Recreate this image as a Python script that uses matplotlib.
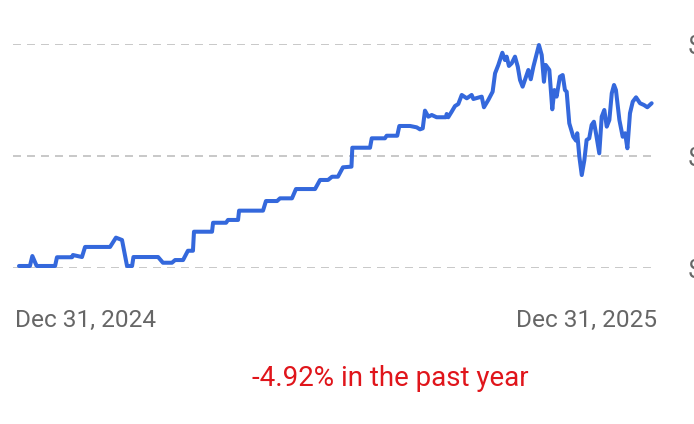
import numpy as np
import matplotlib
matplotlib.use("Agg")
import matplotlib.pyplot as plt

# days since Dec 31, 2024 and price
days = [0, 6.3, 7.7, 10.2, 20.8, 21.9, 30.6, 31.1, 36.3, 38.1, 52.5, 55.9, 59.4, 62.3,
        65.2, 66.0, 80.2, 83.0, 88.2, 90.0, 94.6, 97.4, 100.3, 100.9, 111.3, 111.9,
        119.4, 120.5, 126.3, 126.9, 140.7, 142.4, 148.8, 150.5, 157.4, 159.7, 170.7,
        173.6, 178.2, 180.5, 183.9, 186.8, 191.7, 192.2, 202.4, 203.4, 211.0, 212.0,
        218.1, 219.3, 225.5, 229.3, 231.2, 232.8, 234.1, 236.0, 238.0, 240.8, 246.2,
        246.6, 247.5, 249.5, 251.4, 253.3, 255.3, 258.2, 261.0, 262.0, 266.8, 268.1,
        270.6, 273.1, 274.5, 276.4, 278.7, 280.2, 281.2, 282.5, 284.1, 286.0, 287.6,
        288.9, 290.4, 292.7, 293.7, 295.1, 296.6, 299.8, 301.4, 302.7, 303.7, 305.8,
        307.5, 308.7, 310.0, 311.9, 313.5, 314.8, 315.8, 317.3, 319.6, 321.2, 321.9,
        323.1, 324.5, 326.0, 327.3, 328.8, 330.2, 331.5, 332.7, 334.6, 336.0, 337.5,
        338.9, 340.4, 341.8, 343.1, 344.2, 346.2, 348.1, 349.5, 350.8, 352.3, 353.9,
        355.8, 358.1, 360.4, 362.3, 364.8]
price = [100.18, 100.18, 101.07, 100.18, 100.18, 100.96, 100.96, 101.16, 100.98, 101.88,
         101.88, 102.71, 102.50, 100.18, 100.18, 100.98, 100.98, 100.47, 100.47, 100.71,
         100.71, 101.54, 101.54, 103.24, 103.24, 104.04, 104.04, 104.29, 104.29, 105.12,
         105.12, 105.98, 105.98, 106.22, 106.22, 107.05, 107.05, 107.86, 107.86, 108.15,
         108.15, 108.99, 109.05, 110.74, 110.74, 111.58, 111.58, 111.81, 111.81, 112.68,
         112.68, 112.56, 112.38, 112.47, 114.05, 113.51, 113.66, 113.46, 113.46, 113.75,
         113.46, 113.96, 114.46, 114.64, 115.45, 115.15, 115.45, 115.09, 115.30, 114.35,
         115.00, 115.74, 117.38, 118.13, 119.22, 118.57, 118.87, 118.04, 118.28, 118.87,
         117.98, 116.79, 116.19, 117.23, 117.68, 116.85, 117.97, 119.91, 119.02, 116.63,
         118.13, 117.68, 114.17, 115.89, 115.30, 117.08, 117.23, 115.89, 115.74, 112.92,
         111.72, 111.37, 112.03, 109.94, 108.30, 109.64, 111.43, 111.58, 112.77, 113.06,
         112.03, 110.24, 113.51, 114.11, 112.62, 113.21, 115.60, 116.34, 115.89, 113.21,
         111.72, 112.03, 110.69, 113.81, 114.85, 115.24, 114.71, 114.55, 114.35, 114.71]

grid_levels = [100, 110, 120]
start_label = "Dec 31, 2024"
end_label = "Dec 31, 2025"
change_text = "-4.92% in the past year"

W, H = 694, 424
fig = plt.figure(figsize=(W / 100, H / 100), dpi=100)

# axes box: grid from x=13..652 px, y=44..268 px
ax = fig.add_axes([13 / W, (H - 268) / H, 639 / W, 224 / H])
ax.set_xlim(-6 * 365 / 633, 365)
ax.set_ylim(100, 120)

ax.plot(days, price, color="#3468dc", lw=2.9, solid_joinstyle="round",
        solid_capstyle="round", clip_on=False, zorder=3)

for g in grid_levels:
    ax.axhline(g, color="#c8c8c8", lw=1.4, dashes=(4.1, 3.1), zorder=1)

for s in ax.spines.values():
    s.set_visible(False)
ax.set_xticks([])
ax.set_yticks(grid_levels)
ax.yaxis.tick_right()
# price labels run off the right edge in the original screenshot
ax.set_yticklabels(["$"] * len(grid_levels), fontsize=18, color="#666666",
                   family="Roboto")
ax.tick_params(axis="y", length=0, pad=26)

fig.text(15 / W, 1 - 327 / H, start_label, ha="left", va="baseline",
         fontsize=17.6, color="#666666", family="Roboto")
fig.text(657 / W, 1 - 327 / H, end_label, ha="right", va="baseline",
         fontsize=17.6, color="#666666", family="Roboto")
fig.text(390 / W, 1 - 386 / H, change_text, ha="center", va="baseline",
         fontsize=20, color="#e0151b", family="Roboto")

fig.savefig("out.png", dpi=100)
